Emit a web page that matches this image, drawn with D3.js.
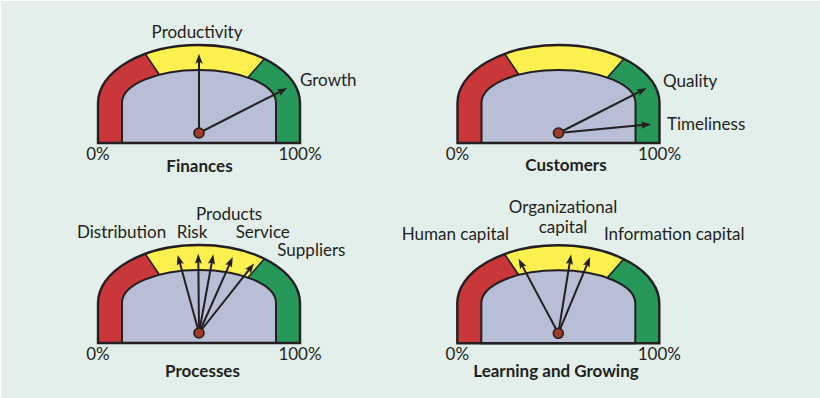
<!DOCTYPE html>
<html>
<head>
<meta charset="utf-8">
<script src="https://cdn.jsdelivr.net/npm/d3@7"></script>
<style>
  body { margin: 0; background: #fff; }
  text { font-family: Lato, "Open Sans", sans-serif; fill: #231f20; }
</style>
</head>
<body>
<div id="chart"></div>
<script>
// gauge titles and colour band limits (percent)
const gaugeTitles = ["Finances", "Customers", "Processes", "Learning and Growing"];
const bandLimits = [0, 31, 73, 100];
const scaleLabels = ["0%", "100%"];

// needles per gauge (percent of the dial)
const financesNeedles = ["Productivity", "Growth"];
const financesValues = [50, 85];
const customersNeedles = ["Quality", "Timeliness"];
const customersValues = [85, 97];
const processesNeedles = ["Distribution", "Risk", "Products", "Service", "Suppliers"];
const processesValues = [41.5, 49.7, 55.7, 63.3, 71.3];
const learningNeedles = ["Human capital", "Organizational capital", "Information capital"];
const learningValues = [34.4, 55.1, 62.6];

const width = 820, height = 398;
const fontSize = 17;
const bandColors = ["#c9373a", "#fdf04f", "#25985a"];

// where each gauge sits, and where its labels go (relative to the pivot)
const layout = [
  { cx: 199, cy: 133, titleDx: 0.5, titleDy: 38.7,
    labels: [{ dx: -2, dy: -95, anchor: "middle" }, { dx: 101, dy: -47 }] },
  { cx: 558.5, cy: 133, titleDx: 7.5, titleDy: 37.7,
    labels: [{ dx: 104.5, dy: -46 }, { dx: 108.5, dy: -3 }] },
  { cx: 199, cy: 333, titleDx: 3.5, titleDy: 43.7,
    labels: [{ dx: -122, dy: -95 }, { dx: -22.3, dy: -95 }, { dx: -3, dy: -113 },
             { dx: 36.7, dy: -95 }, { dx: 78.3, dy: -77 }] },
  { cx: 558.3, cy: 333.3, titleDx: -2.3, titleDy: 43.4,
    labels: [{ dx: -156.6, dy: -93 }, { dx: 4.7, dy: -120.6, lines: true }, { dx: 45.7, dy: -93 }] }
];
const needleSets = [
  [financesNeedles, financesValues],
  [customersNeedles, customersValues],
  [processesNeedles, processesValues],
  [learningNeedles, learningValues]
];

// dial geometry: elliptical top over straight sides
const bottom = 10, shoulder = -30;
const outer = { a: 101, b: 58 };
const inner = { a: 77, b: 33 };
const mid = { a: 92.6, b: 49.25 };

const angle = d3.scaleLinear().domain([0, 100]).range([-Math.PI / 2, Math.PI / 2]);

function dialPath(s) {
  return `M${-s.a},${bottom} L${-s.a},${shoulder} A${s.a},${s.b} 0 0 1 ${s.a},${shoulder} L${s.a},${bottom} Z`;
}

// distance from pivot to the middle of the coloured band along a direction
function tipDistance(th) {
  const sx = Math.sin(th), sy = -Math.cos(th);
  if (Math.abs(sx) > 1e-6) {
    const tSide = mid.a / Math.abs(sx);
    if (sy * tSide >= shoulder) return tSide;
  }
  const A = (sx * sx) / (mid.a * mid.a) + (sy * sy) / (mid.b * mid.b);
  const B = (2 * -shoulder * sy) / (mid.b * mid.b);
  const C = (shoulder * shoulder) / (mid.b * mid.b) - 1;
  return (-B + Math.sqrt(B * B - 4 * A * C)) / (2 * A);
}

const svg = d3.select("#chart").append("svg")
  .attr("width", width)
  .attr("height", height);

svg.append("rect")
  .attr("x", 1).attr("y", 1)
  .attr("width", width - 1).attr("height", height - 1)
  .attr("fill", "#e3efeb");

const wedge = d3.arc().innerRadius(0).outerRadius(200);

gaugeTitles.forEach((title, i) => {
  const L = layout[i];
  const g = svg.append("g").attr("transform", `translate(${L.cx},${L.cy})`);

  g.append("clipPath").attr("id", `dial-${i}`)
    .append("path").attr("d", dialPath(outer));

  const bands = g.append("g").attr("clip-path", `url(#dial-${i})`);
  bandColors.forEach((c, k) => {
    bands.append("path")
      .attr("d", wedge({
        startAngle: k === 0 ? -Math.PI : angle(bandLimits[k]),
        endAngle: k === bandColors.length - 1 ? Math.PI : angle(bandLimits[k + 1])
      }))
      .attr("fill", c);
  });
  // band dividers
  bandLimits.slice(1, -1).forEach(v => {
    const th = angle(v);
    bands.append("line")
      .attr("x1", 0).attr("y1", 0)
      .attr("x2", 200 * Math.sin(th)).attr("y2", -200 * Math.cos(th))
      .attr("stroke", "#231f20").attr("stroke-width", 1.6);
  });

  g.append("path").attr("d", dialPath(inner))
    .attr("fill", "#b7bed6")
    .attr("stroke", "#231f20").attr("stroke-width", 2);
  g.append("path").attr("d", dialPath(outer))
    .attr("fill", "none")
    .attr("stroke", "#231f20").attr("stroke-width", 2.4);

  // needles
  const [names, values] = needleSets[i];
  values.forEach(v => {
    const th = angle(v);
    const r = tipDistance(th);
    const sx = Math.sin(th), sy = -Math.cos(th);
    g.append("line")
      .attr("x1", 0).attr("y1", 0)
      .attr("x2", (r - 6) * sx).attr("y2", (r - 6) * sy)
      .attr("stroke", "#231f20").attr("stroke-width", 2);
    g.append("path")
      .attr("d", "M0,0 L-10,-3.6 L-8,0 L-10,3.6 Z")
      .attr("transform", `translate(${r * sx},${r * sy}) rotate(${th * 180 / Math.PI - 90})`)
      .attr("fill", "#231f20");
  });

  g.append("circle")
    .attr("r", 5)
    .attr("fill", "#a33b2b")
    .attr("stroke", "#231f20").attr("stroke-width", 1.6);

  // needle labels
  names.forEach((name, k) => {
    const pos = L.labels[k];
    const t = g.append("text")
      .attr("x", pos.dx).attr("y", pos.dy)
      .attr("text-anchor", pos.anchor || (pos.lines ? "middle" : "start"))
      .attr("font-size", fontSize);
    if (pos.lines) {
      name.split(" ").forEach((w, j) => {
        t.append("tspan").attr("x", pos.dx).attr("dy", j === 0 ? 0 : 20).text(w);
      });
    } else {
      t.text(name);
    }
  });

  // 0% / 100% under the dial edges
  scaleLabels.forEach((s, k) => {
    g.append("text")
      .attr("x", k === 0 ? -outer.a : outer.a)
      .attr("y", 27)
      .attr("text-anchor", "middle")
      .attr("font-size", fontSize)
      .text(s);
  });

  g.append("text")
    .attr("x", L.titleDx).attr("y", L.titleDy)
    .attr("text-anchor", "middle")
    .attr("font-size", fontSize)
    .attr("font-weight", "bold")
    .text(title);
});
</script>
</body>
</html>
